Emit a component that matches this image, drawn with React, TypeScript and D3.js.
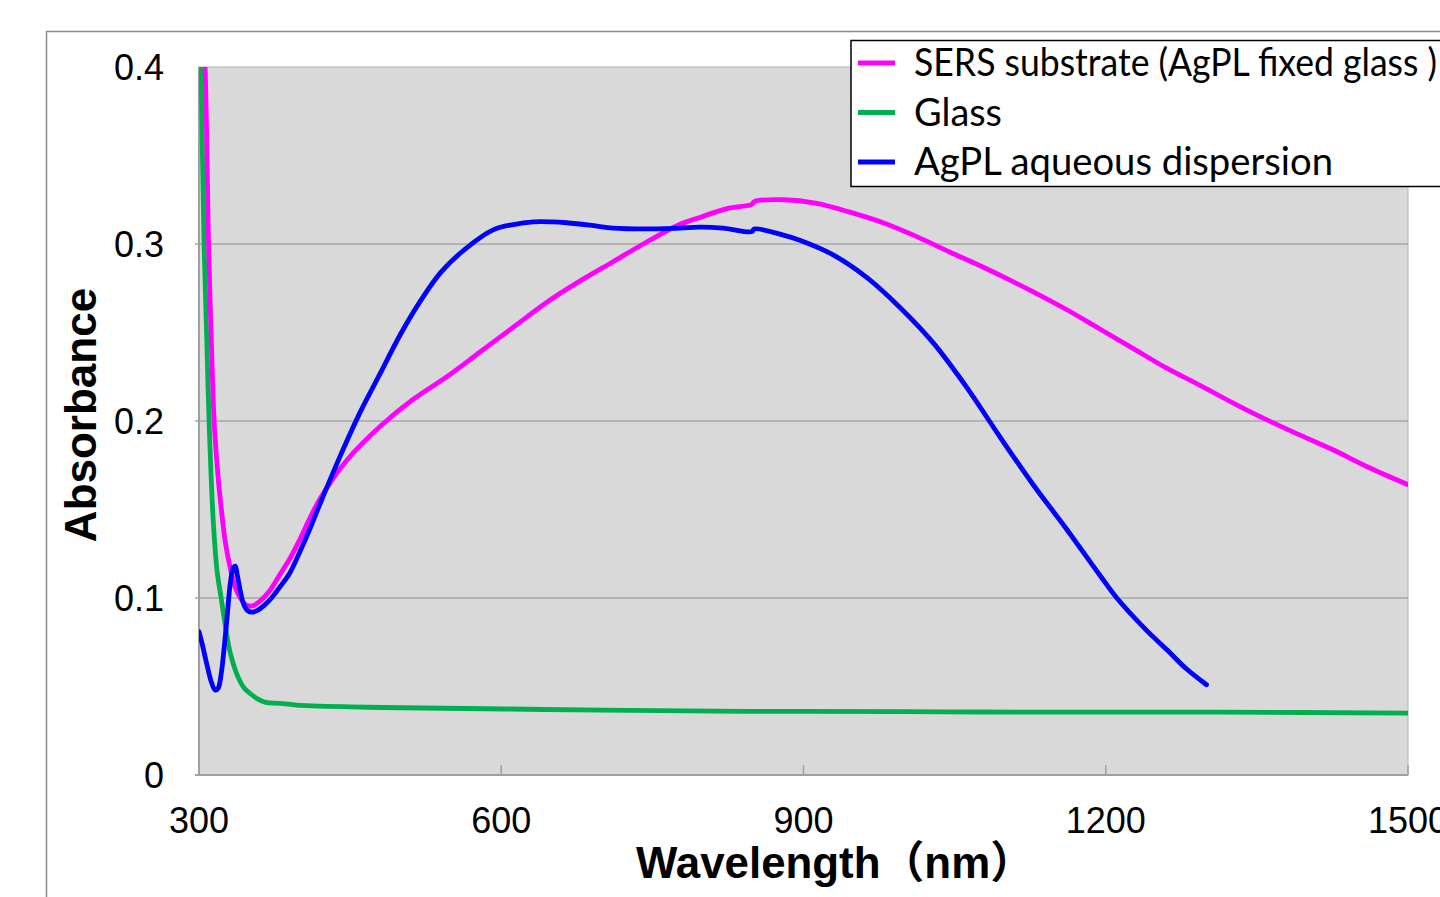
import React, { useEffect, useRef } from 'react';
import * as d3 from 'd3';

// wavelength (nm), absorbance
const sersSubstrate: [number, number][] = [
  [300, 0.46], [303, 0.43], [306, 0.4], [309.5, 0.3], [312, 0.25], [315, 0.2],
  [318, 0.175], [320, 0.162], [323, 0.146], [326, 0.132], [331, 0.117],
  [336, 0.106], [341, 0.1], [347, 0.096], [353, 0.0955], [360, 0.098],
  [370, 0.104], [380, 0.113], [390, 0.122], [400, 0.133], [410, 0.145],
  [420, 0.156], [447, 0.178], [480, 0.197], [512, 0.212], [546, 0.225],
  [579, 0.239], [612, 0.253], [645, 0.267], [678, 0.279], [711, 0.29],
  [744, 0.301], [777, 0.311], [797, 0.315], [824, 0.32], [849, 0.3225],
  [851, 0.324], [880, 0.325], [913, 0.323], [946, 0.318], [979, 0.312],
  [1013, 0.304], [1045, 0.2955], [1078, 0.287], [1128, 0.273], [1161, 0.263],
  [1194, 0.252], [1227, 0.241], [1260, 0.23], [1294, 0.22], [1327, 0.21],
  [1360, 0.2006], [1393, 0.192], [1426, 0.1836], [1460, 0.174], [1500, 0.164],
];

const glass: [number, number][] = [
  [300, 0.45], [302, 0.4], [305, 0.3], [308, 0.24], [310, 0.2], [314, 0.145],
  [318, 0.115], [322, 0.1], [326, 0.085], [331, 0.069], [339, 0.055],
  [345, 0.049], [351, 0.046], [358, 0.043], [366, 0.041], [380, 0.0405],
  [390, 0.04], [397, 0.0395], [450, 0.0385], [500, 0.038], [605, 0.0373],
  [700, 0.0366], [841, 0.036], [1000, 0.0358], [1076, 0.0356], [1200, 0.0355],
  [1311, 0.0355], [1500, 0.035],
];

const agplDispersion: [number, number][] = [
  [300, 0.081], [304, 0.072], [308, 0.062], [312, 0.053], [316, 0.048],
  [319, 0.049], [322, 0.057], [325, 0.072], [328, 0.09], [331, 0.108],
  [334, 0.117], [336, 0.118], [338, 0.113], [341, 0.104], [344, 0.097],
  [348, 0.093], [352, 0.092], [358, 0.093], [365, 0.096], [372, 0.1],
  [380, 0.106], [390, 0.114], [400, 0.126], [410, 0.139], [420, 0.153],
  [440, 0.18], [460, 0.205], [480, 0.227], [500, 0.249], [520, 0.268],
  [540, 0.284], [566, 0.298], [592, 0.308], [612, 0.311], [632, 0.3125],
  [650, 0.3125], [665, 0.312], [690, 0.3105], [711, 0.309], [744, 0.3085],
  [770, 0.3088], [797, 0.3095], [820, 0.309], [849, 0.307], [851, 0.3085],
  [880, 0.305], [897, 0.302], [929, 0.294], [963, 0.281], [996, 0.264],
  [1029, 0.244], [1062, 0.219], [1095, 0.191], [1128, 0.164], [1161, 0.139],
  [1194, 0.113], [1211, 0.1], [1240, 0.082], [1261, 0.0706], [1280, 0.06],
  [1300, 0.051],
];

const xTicks = [300, 600, 900, 1200, 1500];
const yTicks = [0, 0.1, 0.2, 0.3, 0.4];

const seriesNames = ['SERS substrate (AgPL fixed glass )', 'Glass', 'AgPL aqueous dispersion'];
const seriesColors = ['#ff00ff', '#00b050', '#0000ff'];
const legendWidths = [523, 88, 419];

export default function App() {
  const ref = useRef<SVGSVGElement>(null);

  useEffect(() => {
    document.body.style.margin = '0';
    const svg = d3.select(ref.current);
    svg.selectAll('*').remove();

    const plot = { left: 199, right: 1408, top: 67, bottom: 775 };
    const x = d3.scaleLinear().domain([300, 1500]).range([plot.left, plot.right]);
    const y = d3.scaleLinear().domain([0, 0.4]).range([plot.bottom, plot.top]);

    // chart frame
    svg.append('rect')
      .attr('x', 46.5).attr('y', 31.5)
      .attr('width', 1460).attr('height', 900)
      .attr('fill', 'white')
      .attr('stroke', '#8c8c8c')
      .attr('stroke-width', 1.5);

    svg.append('rect')
      .attr('x', plot.left).attr('y', plot.top)
      .attr('width', plot.right - plot.left)
      .attr('height', plot.bottom - plot.top)
      .attr('fill', '#d9d9d9')
      .attr('stroke', '#b4b4b4')
      .attr('stroke-width', 1);

    // gridlines
    svg.append('g')
      .selectAll('line')
      .data(yTicks.filter(t => t > 0 && t < 0.4))
      .enter()
      .append('line')
      .attr('x1', plot.left - 4).attr('x2', plot.right)
      .attr('y1', d => y(d)).attr('y2', d => y(d))
      .attr('stroke', '#a6a6a6')
      .attr('stroke-width', 1.5);

    // axes lines
    svg.append('line')
      .attr('x1', plot.left).attr('x2', plot.left)
      .attr('y1', plot.top).attr('y2', plot.bottom + 1)
      .attr('stroke', '#a0a0a0').attr('stroke-width', 2);
    svg.append('line')
      .attr('x1', plot.left - 4).attr('x2', plot.right)
      .attr('y1', plot.bottom).attr('y2', plot.bottom)
      .attr('stroke', '#a0a0a0').attr('stroke-width', 2);

    svg.append('g')
      .selectAll('line')
      .data(xTicks.slice(1))
      .enter()
      .append('line')
      .attr('x1', d => x(d)).attr('x2', d => x(d))
      .attr('y1', plot.bottom).attr('y2', plot.bottom - 10)
      .attr('stroke', '#a0a0a0').attr('stroke-width', 1.5);

    // tick labels
    svg.append('g')
      .selectAll('text')
      .data(yTicks)
      .enter()
      .append('text')
      .attr('x', 164)
      .attr('y', d => y(d) + 13)
      .attr('text-anchor', 'end')
      .style('font-family', '"Liberation Sans", Arial, sans-serif')
      .style('font-size', '36px')
      .text(d => (d === 0 ? '0' : d3.format('.1f')(d)));

    svg.append('g')
      .selectAll('text')
      .data(xTicks)
      .enter()
      .append('text')
      .attr('x', d => x(d))
      .attr('y', 833)
      .attr('text-anchor', 'middle')
      .style('font-family', '"Liberation Sans", Arial, sans-serif')
      .style('font-size', '36px')
      .text(d => d);

    // axis titles
    svg.append('text')
      .attr('x', 636)
      .attr('y', 878)
      .style('font-family', '"Liberation Sans", Arial, "Noto Sans CJK JP", sans-serif')
      .style('font-size', '44px')
      .style('font-weight', 'bold')
      .attr('textLength', 398)
      .attr('lengthAdjust', 'spacingAndGlyphs')
      .text('Wavelength（nm）');

    svg.append('text')
      .attr('transform', 'translate(96, 415) rotate(-90)')
      .attr('text-anchor', 'middle')
      .style('font-family', '"Liberation Sans", Arial, sans-serif')
      .style('font-size', '44px')
      .style('font-weight', 'bold')
      .text('Absorbance');

    // curves
    svg.append('clipPath').attr('id', 'plot-clip')
      .append('rect')
      .attr('x', plot.left).attr('y', plot.top)
      .attr('width', plot.right - plot.left)
      .attr('height', plot.bottom - plot.top);

    const line = d3.line<[number, number]>()
      .x(d => x(d[0]))
      .y(d => y(d[1]))
      .curve(d3.curveCatmullRom.alpha(0.5));

    const series = [glass, sersSubstrate, agplDispersion];
    const colors = [seriesColors[1], seriesColors[0], seriesColors[2]];
    const curves = svg.append('g').attr('clip-path', 'url(#plot-clip)');
    series.forEach((s, i) => {
      curves.append('path')
        .attr('d', line(s))
        .attr('fill', 'none')
        .attr('stroke', colors[i])
        .attr('stroke-width', 4.8)
        .attr('stroke-linejoin', 'round')
        .attr('stroke-linecap', 'round');
    });

    // legend
    const legend = svg.append('g');
    legend.append('rect')
      .attr('x', 851).attr('y', 40.5)
      .attr('width', 620).attr('height', 146)
      .attr('fill', 'white')
      .attr('stroke', 'black')
      .attr('stroke-width', 1.5);

    seriesNames.forEach((name, i) => {
      const cy = 63 + i * 49.5;
      legend.append('line')
        .attr('x1', 858).attr('x2', 895)
        .attr('y1', cy).attr('y2', cy)
        .attr('stroke', seriesColors[i])
        .attr('stroke-width', 4.8);
      legend.append('text')
        .attr('x', 914)
        .attr('y', cy + 13)
        .attr('textLength', legendWidths[i])
        .attr('lengthAdjust', 'spacingAndGlyphs')
        .style('font-family', 'Lato, "Open Sans", sans-serif')
        .style('font-size', '38px')
        .text(name);
    });
  }, []);

  return <svg ref={ref} width={1440} height={897} style={{ display: 'block' }} />;
}
